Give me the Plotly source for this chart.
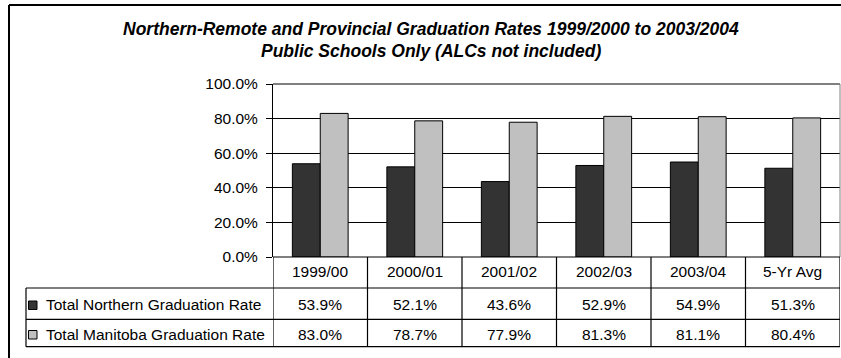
import plotly.graph_objects as go

categories = ["1999/00", "2000/01", "2001/02", "2002/03", "2003/04", "5-Yr Avg"]
northern = [53.9, 52.1, 43.6, 52.9, 54.9, 51.3]
manitoba = [83.0, 78.7, 77.9, 81.3, 81.1, 80.4]
series_names = ["Total Northern Graduation Rate", "Total Manitoba Graduation Rate"]
series_colors = ["#333333", "#c0c0c0"]
y_ticks = [0, 20, 40, 60, 80, 100]
title_lines = ["Northern-Remote and Provincial Graduation Rates 1999/2000 to 2003/2004",
               "Public Schools Only (ALCs not included)"]

W, H = 841, 358
X0, X1 = 273, 840
Y0, Y1 = 84, 257
FONT = "Liberation Sans, Arial, sans-serif"
FS = 15.5


def px(x):
    return (x - X0) / (X1 - X0)


def py(y):
    return (Y1 - y) / (Y1 - Y0)


fig = go.Figure()
for name, vals, col in zip(series_names, [northern, manitoba], series_colors):
    fig.add_trace(go.Bar(
        x=list(range(len(categories))), y=vals, name=name,
        marker=dict(color=col, line=dict(color="black", width=1)),
        showlegend=False, hoverinfo="skip"))

shapes = []
annotations = []

# outer frame (left and top edges visible)
shapes.append(dict(type="line", xref="paper", yref="paper",
                   x0=px(9), x1=px(9), y0=py(5), y1=py(H + 5),
                   line=dict(color="black", width=2)))
shapes.append(dict(type="line", xref="paper", yref="paper",
                   x0=px(9), x1=px(W + 5), y0=py(5), y1=py(5),
                   line=dict(color="black", width=2)))
# gray plot border top / right
shapes.append(dict(type="line", xref="paper", yref="paper",
                   x0=0, x1=1, y0=1, y1=1, line=dict(color="#808080", width=2)))
shapes.append(dict(type="line", xref="paper", yref="paper",
                   x0=1, x1=1, y0=0, y1=1, line=dict(color="#808080", width=1)))

# table geometry (pixels)
TL = 26
row_lines = [Y1, 288, 319.3, 346.7]
shapes.append(dict(type="line", xref="paper", yref="paper", x0=px(X0), x1=px(X1),
                   y0=py(Y1), y1=py(Y1), line=dict(color="black", width=1.2)))
for yy in row_lines[1:]:
    shapes.append(dict(type="line", xref="paper", yref="paper", x0=px(TL), x1=px(X1),
                       y0=py(yy), y1=py(yy), line=dict(color="black", width=1.2)))
shapes.append(dict(type="line", xref="paper", yref="paper", x0=px(TL), x1=px(TL),
                   y0=py(288), y1=py(346.7), line=dict(color="black", width=1.2)))
for i in range(len(categories) + 1):
    shapes.append(dict(type="line", xref="x", yref="paper", x0=i - 0.5, x1=i - 0.5,
                       y0=py(Y1), y1=py(346.7), line=dict(color="black", width=1.2)))

# header labels
for i, c in enumerate(categories):
    annotations.append(dict(x=i, xref="x", y=py(271.5), yref="paper", text=c,
                            showarrow=False, xanchor="center", yanchor="middle",
                            font=dict(family=FONT, size=FS, color="black")))
# rows
row_centers = [304.5, 334.0]
for r, (name, vals, col) in enumerate(zip(series_names, [northern, manitoba], series_colors)):
    yc = row_centers[r]
    shapes.append(dict(type="rect", xref="paper", yref="paper",
                       x0=px(28.5), x1=px(37), y0=py(yc - 3.5), y1=py(yc + 5),
                       fillcolor=col, line=dict(color="black", width=1)))
    annotations.append(dict(x=px(44), xref="paper", y=py(yc), yref="paper", text=name,
                            showarrow=False, xanchor="left", yanchor="middle",
                            font=dict(family=FONT, size=FS, color="black")))
    for i, v in enumerate(vals):
        annotations.append(dict(x=i, xref="x", y=py(yc), yref="paper", text=f"{v:.1f}%",
                                showarrow=False, xanchor="center", yanchor="middle",
                                font=dict(family=FONT, size=FS, color="black")))

# title
for k, (line, yc) in enumerate(zip(title_lines, [29, 51])):
    annotations.append(dict(x=px(430.5), xref="paper", y=py(yc), yref="paper",
                            text=f"<b><i>{line}</i></b>", showarrow=False,
                            xanchor="center", yanchor="middle",
                            font=dict(family=FONT, size=17.5, color="black")))

fig.update_layout(
    width=W, height=H, autosize=False,
    margin=dict(l=X0, r=W - X1, t=Y0, b=H - Y1, pad=0),
    paper_bgcolor="white", plot_bgcolor="white",
    barmode="group", bargap=0.41, bargroupgap=0,
    shapes=shapes, annotations=annotations,
    xaxis=dict(range=[-0.5, len(categories) - 0.5], showticklabels=False,
               showgrid=False, zeroline=False, showline=False, ticks=""),
    yaxis=dict(range=[0, 100], tickvals=y_ticks,
               ticktext=[f"{t:.1f}%" for t in y_ticks],
               ticks="outside", ticklen=6, tickcolor="black", tickwidth=1,
               ticklabelstandoff=5,
               showline=True, linecolor="black", linewidth=1,
               showgrid=True, gridcolor="black", gridwidth=1,
               zeroline=False,
               tickfont=dict(family=FONT, size=FS, color="black")),
)

fig.write_html("out.html", config={"displayModeBar": False},
               post_script="document.body.style.margin='0';document.body.style.overflow='hidden';")
